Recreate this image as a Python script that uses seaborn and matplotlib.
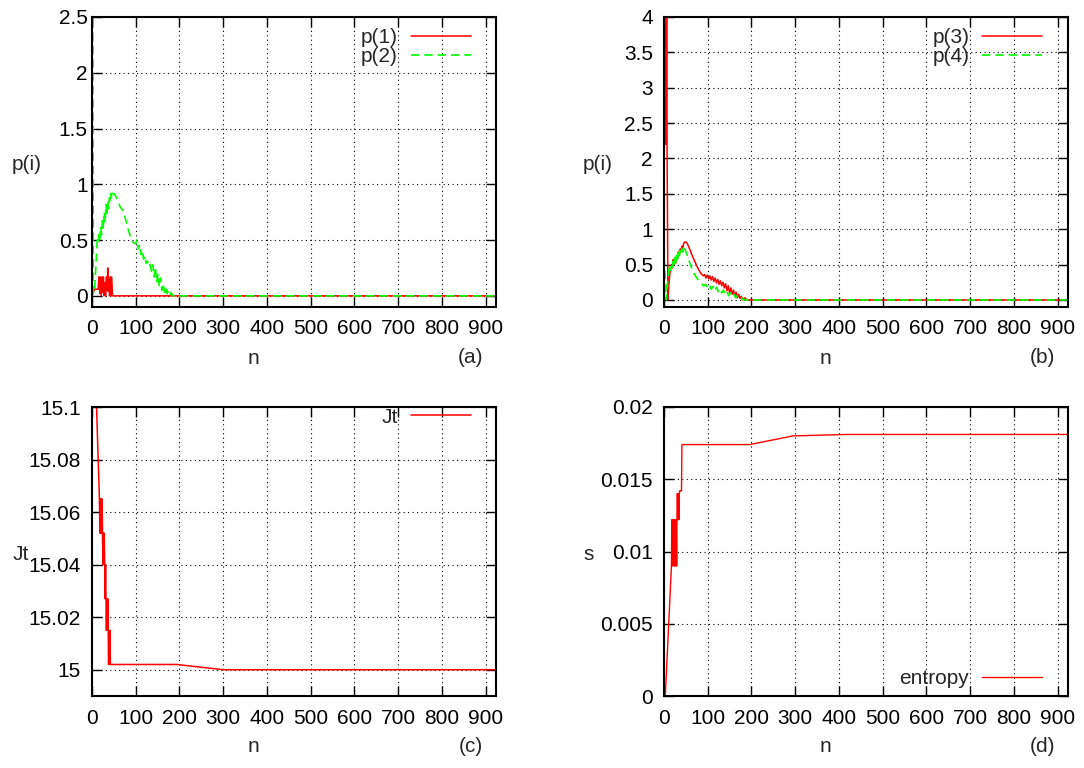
import numpy as np
import pandas as pd
import matplotlib
matplotlib.use("Agg")
import matplotlib.pyplot as plt
import seaborn as sns

# ---- data ----
x_ticks = [0, 100, 200, 300, 400, 500, 600, 700, 800, 900]

# (a) p(1), p(2)
p1_n = [0, 6, 14, 16, 18, 19, 21, 23, 25, 26, 28, 30, 31, 33, 35, 36, 37, 38, 40, 42, 43, 45, 47, 48, 924]
p1 = [0, 0.06, 0.06, 0.17, 0.02, 0.17, 0.0, 0.17, 0.03, 0.17, 0.0, 0.12, 0.0, 0.17,
      0.05, 0.25, 0.04, 0.17, 0.0, 0.17, 0.0, 0.17, 0.0, 0.0, 0.0]
p2_n = [2, 3, 4, 6, 8, 10, 12, 14, 16, 18, 20, 22, 24, 26, 28, 30, 32, 34, 36, 38, 40,
        42, 44, 46, 48, 52, 56, 60, 64, 68, 72, 76, 80, 84, 88, 92, 96, 100, 103, 106,
        109, 112, 115, 118, 121, 124, 127, 130, 133, 136, 139, 142, 145, 148, 151, 154,
        157, 160, 163, 166, 169, 172, 175, 178, 181, 185, 190, 924]
p2 = [2.6, 0.02, 0.03, 0.05, 0.2, 0.35, 0.5, 0.47, 0.55, 0.5, 0.62, 0.55, 0.7, 0.6,
      0.75, 0.66, 0.82, 0.72, 0.85, 0.78, 0.88, 0.84, 0.92, 0.88, 0.92, 0.91, 0.88,
      0.85, 0.8, 0.78, 0.75, 0.7, 0.64, 0.58, 0.53, 0.49, 0.47, 0.47, 0.5, 0.42, 0.46,
      0.37, 0.41, 0.33, 0.36, 0.29, 0.31, 0.26, 0.28, 0.22, 0.28, 0.17, 0.26, 0.12,
      0.2, 0.08, 0.16, 0.05, 0.11, 0.03, 0.08, 0.02, 0.05, 0.01, 0.03, 0.0, 0.0, 0.0]

# (b) p(3), p(4)
p3_n = [0, 3, 4, 5, 6, 7, 9, 11, 13, 15, 17, 19, 21, 23, 25, 27, 29, 31, 33, 35, 37, 39,
        41, 43, 45, 48, 52, 56, 60, 65, 70, 75, 80, 85, 90, 93, 96, 99, 102, 105, 108,
        111, 114, 117, 120, 123, 126, 129, 132, 135, 138, 141, 144, 147, 150, 153, 156,
        159, 162, 165, 168, 171, 174, 177, 180, 184, 190, 924]
p3 = [4.1, 2.2, 4.1, 2.2, 4.1, 2.2, 0.0, 0.2, 0.35, 0.45, 0.5, 0.45, 0.57, 0.5, 0.6,
      0.52, 0.62, 0.58, 0.68, 0.64, 0.72, 0.7, 0.76, 0.74, 0.8, 0.82, 0.81, 0.76, 0.7,
      0.62, 0.55, 0.48, 0.42, 0.37, 0.34, 0.36, 0.31, 0.35, 0.3, 0.34, 0.28, 0.33,
      0.26, 0.31, 0.24, 0.29, 0.22, 0.27, 0.2, 0.25, 0.17, 0.23, 0.13, 0.2, 0.1, 0.17,
      0.08, 0.14, 0.05, 0.11, 0.03, 0.08, 0.02, 0.05, 0.0, 0.03, 0.0, 0.0]
p4_n = [0, 3, 5, 7, 9, 11, 13, 15, 17, 19, 21, 23, 25, 27, 29, 31, 33, 35, 37, 39, 41,
        43, 45, 48, 52, 56, 60, 65, 70, 75, 80, 85, 90, 95, 100, 104, 108, 112, 116,
        120, 124, 128, 132, 136, 140, 144, 148, 152, 156, 160, 164, 168, 172, 176, 180,
        185, 190, 924]
p4 = [0.6, 0.3, 0.0, 0.15, 0.3, 0.4, 0.5, 0.42, 0.5, 0.45, 0.55, 0.48, 0.6, 0.52, 0.63,
      0.56, 0.67, 0.6, 0.7, 0.64, 0.73, 0.68, 0.75, 0.72, 0.65, 0.58, 0.5, 0.43, 0.36,
      0.31, 0.27, 0.24, 0.2, 0.22, 0.17, 0.21, 0.15, 0.19, 0.13, 0.18, 0.12, 0.16, 0.1,
      0.14, 0.08, 0.12, 0.06, 0.1, 0.05, 0.08, 0.03, 0.06, 0.02, 0.04, 0.01, 0.0, 0.0,
      0.0]

# (c) Jt
jt_n = [0, 17, 18, 19, 20, 21, 22, 23, 24, 25, 26, 27, 28, 29, 30, 31, 32, 33, 34, 35,
        36, 37, 38, 39, 40, 41, 42, 43, 194, 300, 924]
jt = [15.155, 15.065, 15.052, 15.065, 15.052, 15.065, 15.052, 15.065, 15.052, 15.040,
      15.052, 15.040, 15.052, 15.040, 15.027, 15.040, 15.027, 15.015, 15.027, 15.015,
      15.027, 15.015, 15.002, 15.015, 15.002, 15.015, 15.002, 15.002, 15.002, 15.0, 15.0]

# (d) entropy
s_n = [3, 17, 18, 19, 20, 21, 22, 23, 24, 25, 26, 27, 28, 29, 30, 31, 32, 33, 34, 35,
       36, 37, 38, 39, 40, 41, 196, 295, 420, 924]
s = [0, 0.009, 0.0122, 0.009, 0.0122, 0.0105, 0.0122, 0.009, 0.0122, 0.009, 0.0122,
     0.009, 0.0122, 0.009, 0.014, 0.014, 0.0122, 0.014, 0.0122, 0.014, 0.0142, 0.0142,
     0.0142, 0.0142, 0.0142, 0.0174, 0.0174, 0.0180, 0.0181, 0.0181]

yticks_a = [0, 0.5, 1, 1.5, 2, 2.5]
yticks_b = [0, 0.5, 1, 1.5, 2, 2.5, 3, 3.5, 4]
yticks_c = [15, 15.02, 15.04, 15.06, 15.08, 15.1]
ytick_labels_c = ["15", "15.02", "15.04", "15.06", "15.08", "15.1"]
yticks_d = [0, 0.005, 0.01, 0.015, 0.02]
ytick_labels_d = ["0", "0.005", "0.01", "0.015", "0.02"]

RED = "#ff0000"
GREEN = "#00ff00"
DASH = (0, (5, 3))

sns.set_theme(style="ticks")
plt.rcParams["font.family"] = ["Liberation Sans", "DejaVu Sans"]
plt.rcParams["font.size"] = 15

W, H = 1084, 768
fig = plt.figure(figsize=(W / 100, H / 100), dpi=100)


def make_ax(left, top, right, bottom):
    return fig.add_axes([left / W, 1 - bottom / H, (right - left) / W, (bottom - top) / H])


ax_a = make_ax(92, 17, 496, 307)
ax_b = make_ax(664, 17, 1068, 307)
ax_c = make_ax(92, 407, 496, 696)
ax_d = make_ax(664, 407, 1068, 696)

sns.lineplot(x=p1_n, y=p1, ax=ax_a, color=RED, lw=1.1, estimator=None, sort=False, label="p(1)")
sns.lineplot(x=p2_n, y=p2, ax=ax_a, color=GREEN, lw=1.2, linestyle=DASH, estimator=None, sort=False, label="p(2)")
sns.lineplot(x=p3_n, y=p3, ax=ax_b, color=RED, lw=1.1, estimator=None, sort=False, label="p(3)")
sns.lineplot(x=p4_n, y=p4, ax=ax_b, color=GREEN, lw=1.2, linestyle=DASH, estimator=None, sort=False, label="p(4)")
sns.lineplot(x=jt_n, y=jt, ax=ax_c, color=RED, lw=1.1, estimator=None, sort=False, label="Jt")
sns.lineplot(x=s_n, y=s, ax=ax_d, color=RED, lw=1.0, estimator=None, sort=False, label="entropy")

setup = [
    (ax_a, (-0.1, 2.5), yticks_a, [f"{v:g}" for v in yticks_a], "p(i)", -0.161, 3, "(a)", (0.938, 0.962), "upper right"),
    (ax_b, (-0.1, 4), yticks_b, [f"{v:g}" for v in yticks_b], "p(i)", -0.163, 8, "(b)", (0.936, 0.962), "upper right"),
    (ax_c, (14.99, 15.1), yticks_c, ytick_labels_c, "Jt", -0.177, 8, "(c)", (0.938, 0.998), "upper right"),
    (ax_d, (0, 0.02), yticks_d, ytick_labels_d, "s", -0.187, 8, "(d)", (0.936, 0.026), "lower right"),
]

for ax, ylim, yt, ytl, ylab, ylx, ypad, tag, lpos, lloc in setup:
    ax.set_xlim(0, 924)
    ax.set_ylim(*ylim)
    ax.set_xticks(x_ticks)
    ax.set_xticklabels([str(v) for v in x_ticks])
    ax.set_yticks(yt)
    ax.set_yticklabels(ytl)
    ax.tick_params(direction="in", top=True, right=True, length=7, width=1,
                   labelsize=15, colors="black")
    ax.tick_params(axis="x", pad=9)
    ax.tick_params(axis="y", pad=ypad)
    ax.grid(True, color="black", linestyle=(0, (1, 3)), linewidth=0.8)
    ax.set_axisbelow(True)
    for sp in ax.spines.values():
        sp.set_linewidth(1.5)
        sp.set_color("black")
    ax.set_xlabel("n", fontsize=15, va="center")
    ax.xaxis.set_label_coords(0.40, -0.176)
    ax.set_ylabel(ylab, fontsize=15, rotation=0, ha="center", va="center")
    ax.yaxis.set_label_coords(ylx, 0.49)
    ax.legend(loc=lloc, bbox_to_anchor=lpos, frameon=False, markerfirst=False,
              fontsize=15, handlelength=2.9, handletextpad=0.6, labelspacing=0.0,
              borderpad=0, borderaxespad=0)
    pos = ax.get_position()
    fig.text(pos.x0 + (pos.x1 - pos.x0) * 0.937, pos.y0 - 51 / H, tag,
             fontsize=15, ha="center", va="center")

fig.savefig("out.png", dpi=100)
